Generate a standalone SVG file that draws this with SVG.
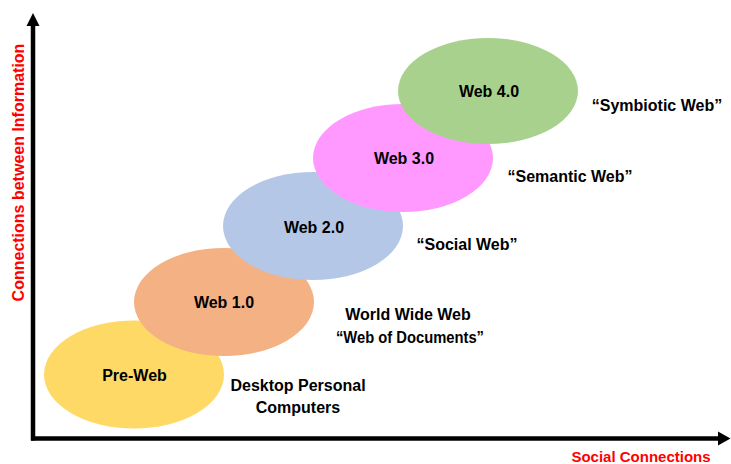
<svg xmlns="http://www.w3.org/2000/svg" width="731" height="464" viewBox="0 0 731 464">
<style>
.lbl{font-family:"Liberation Sans",Arial,sans-serif;font-weight:bold;font-size:16px;fill:#000;text-anchor:middle}
.ax{font-family:"Liberation Sans",Arial,sans-serif;font-weight:bold;fill:#FF0000;text-anchor:middle}
.axis{stroke:#000;stroke-width:4.5;fill:none}
</style>
<rect width="731" height="464" fill="#fff"/>
<g id="axes">
<line class="axis" x1="33" y1="440.5" x2="33" y2="24"/>
<polygon points="33,13 26.5,26 39.5,26" fill="#000"/>
<line class="axis" x1="31" y1="438.5" x2="721" y2="438.5"/>
<polygon points="730.5,438.5 718,431.5 718,445.5" fill="#000"/>
<text class="ax" font-size="16" transform="translate(24,172.5) rotate(-90)">Connections between Information</text>
<text class="ax" font-size="15" x="641" y="462">Social Connections</text>
</g>
<g id="pre-web">
<ellipse cx="134" cy="374.5" rx="90" ry="54" fill="#FFD966"/>
<text class="lbl" x="134.5" y="381">Pre-Web</text>
</g>
<g id="web1">
<ellipse cx="224" cy="302" rx="90" ry="54" fill="#F4B183"/>
<text class="lbl" x="224" y="308">Web 1.0</text>
</g>
<g id="web2">
<ellipse cx="313" cy="226" rx="90" ry="54" fill="#B4C7E7"/>
<text class="lbl" x="314" y="233">Web 2.0</text>
</g>
<g id="web3">
<ellipse cx="403" cy="158" rx="90" ry="54" fill="#FF99FF"/>
<text class="lbl" x="404" y="164">Web 3.0</text>
</g>
<g id="web4">
<ellipse cx="488" cy="91" rx="90" ry="53" fill="#A9D18E"/>
<text class="lbl" x="489" y="97">Web 4.0</text>
</g>
<g id="descriptions">
<text class="lbl" x="298" y="391">Desktop Personal</text>
<text class="lbl" x="298" y="413">Computers</text>
<text class="lbl" x="408" y="320">World Wide Web</text>
<text class="lbl" x="410" y="343" textLength="148" lengthAdjust="spacingAndGlyphs">“Web of Documents”</text>
<text class="lbl" x="467" y="250">“Social Web”</text>
<text class="lbl" x="570" y="182">“Semantic Web”</text>
<text class="lbl" x="657" y="111">“Symbiotic Web”</text>
</g>
</svg>
